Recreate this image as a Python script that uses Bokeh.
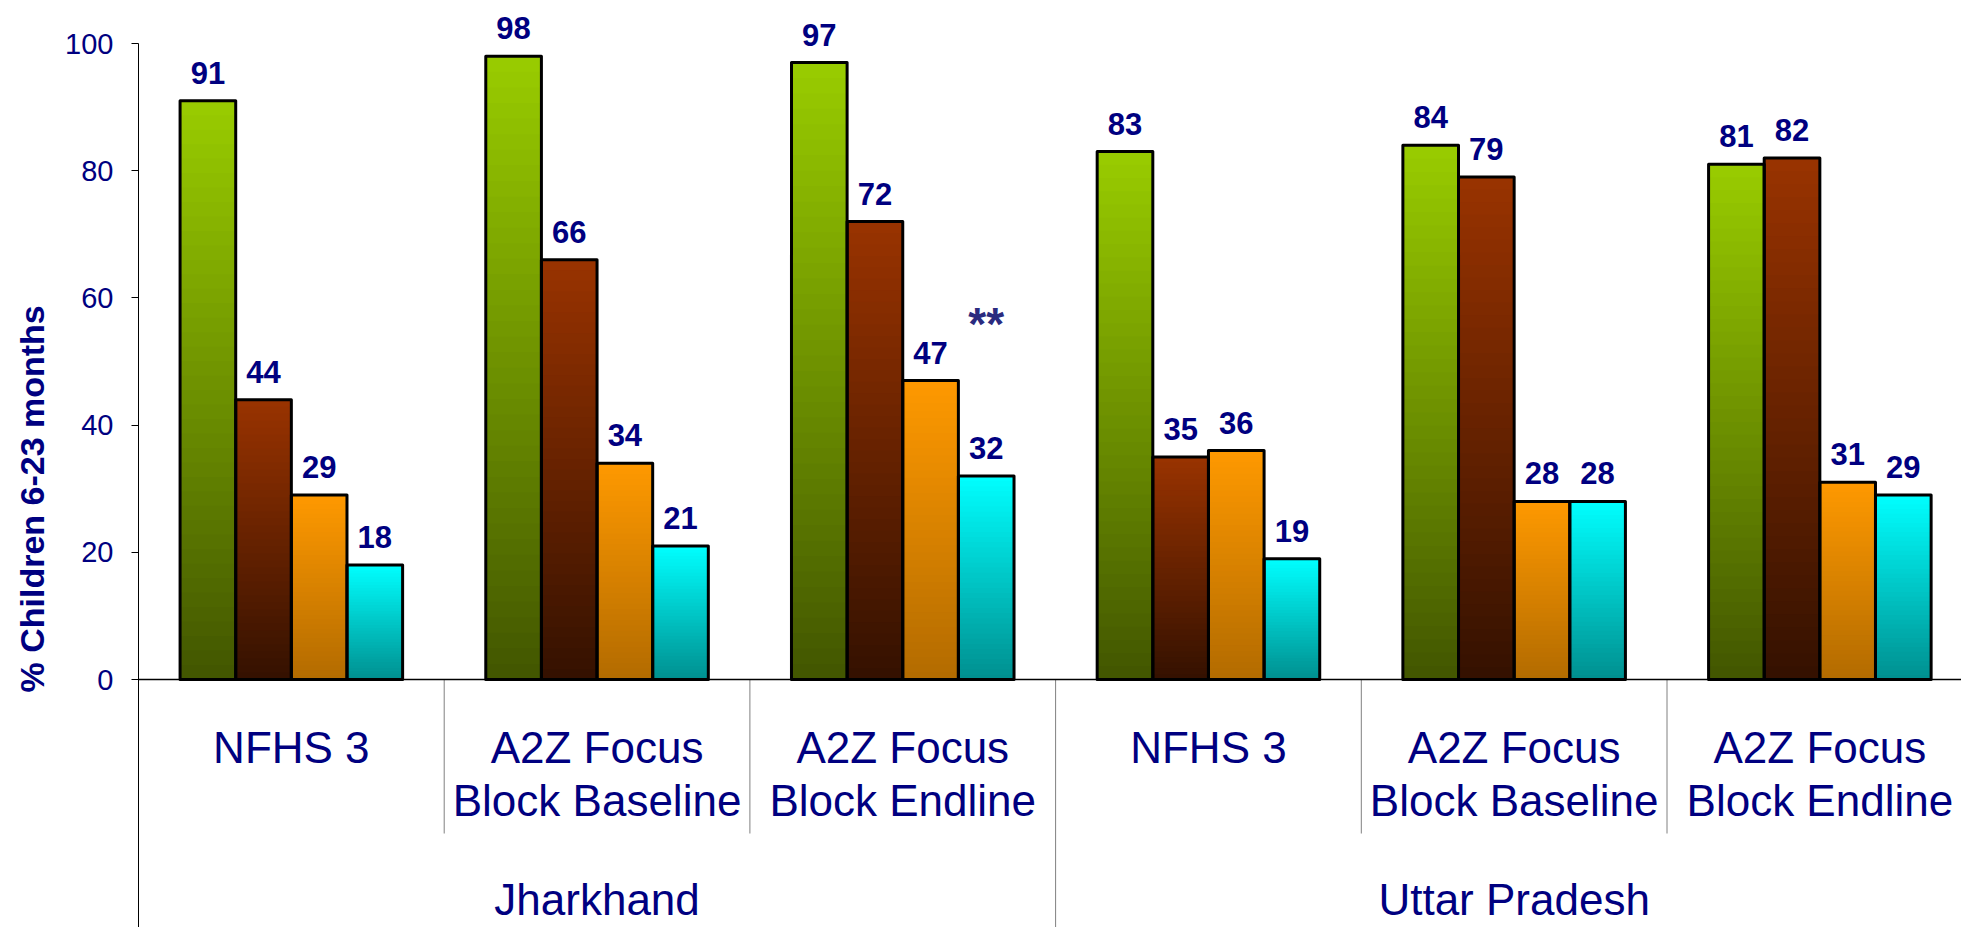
from bokeh.plotting import figure
from bokeh.models import Range1d, FixedTicker, Span, ColumnDataSource, Title
from bokeh.core.properties import value
from bokeh.embed import file_html
from bokeh.resources import INLINE

# ---------------- data ----------------
groups = ["Jharkhand", "Uttar Pradesh"]
categories = ["NFHS 3", "A2Z Focus\nBlock Baseline", "A2Z Focus\nBlock Endline",
              "NFHS 3", "A2Z Focus\nBlock Baseline", "A2Z Focus\nBlock Endline"]
series_1 = [91, 98, 97, 83, 84, 81]   # green
series_2 = [44, 66, 72, 35, 79, 82]   # brown
series_3 = [29, 34, 47, 36, 28, 31]   # orange
series_4 = [18, 21, 32, 19, 28, 29]   # cyan
y_ticks = [0, 20, 40, 60, 80, 100]
y_title = "% Children 6-23 months"
note_text = "**"
note_category = 2
note_series = 3

# ---------------- styles / layout ----------------
top_colors = [(153, 204, 0), (153, 51, 0), (255, 153, 0), (0, 255, 255)]
bottom_colors = [(66, 86, 0), (52, 17, 0), (178, 107, 0), (0, 143, 143)]
NAVY = "#000080"
FONT = value("Liberation Sans")

W, H = 1961, 927
LEFT = 138
TOP_PX = 43          # pixel row of the 100 tick
ZERO_PX = 679        # pixel row of the 0 tick
CAT_PX = 305.7
ppu = (ZERO_PX - TOP_PX) / 100.0
y_bottom = -(H - ZERO_PX) / ppu
y_top = 100 + TOP_PX / ppu
x_end = (W - LEFT) / CAT_PX


def ydata(px):
    return (ZERO_PX - px) / ppu


BW = 0.182
N_SLICES = 40
LABEL_GAP = 28 / ppu
LINE1_Y = ydata(747)
LINE2_Y = ydata(800)
GROUP_Y = ydata(899)
INNER_SEP_Y = ydata(833)
NOTE_Y = ydata(323)

series = [series_1, series_2, series_3, series_4]

p = figure(width=W, height=H, output_backend="svg", toolbar_location=None,
           x_range=Range1d(0, x_end), y_range=Range1d(y_bottom, y_top),
           min_border_left=LEFT, min_border_top=0, min_border_right=0,
           min_border_bottom=0, background_fill_color="white",
           border_fill_color="white", outline_line_color=None)
p.xgrid.visible = False
p.ygrid.visible = False
p.xaxis.visible = False

# gradient bars
sl = dict(left=[], right=[], top=[], bottom=[], color=[])
ol = dict(left=[], right=[], top=[], bottom=[])
lab = dict(x=[], y=[], text=[])
for c in range(len(categories)):
    for s in range(4):
        v = series[s][c]
        xc = c + 0.5 + (s - 1.5) * BW
        l, r = xc - BW / 2, xc + BW / 2
        for i in range(N_SLICES):
            f = (i + 0.5) / N_SLICES
            col = tuple(int(round(b + (t - b) * f)) for b, t in zip(bottom_colors[s], top_colors[s]))
            sl["left"].append(l); sl["right"].append(r)
            sl["bottom"].append(v * i / N_SLICES); sl["top"].append(v)
            sl["color"].append("#%02x%02x%02x" % col)
        ol["left"].append(l); ol["right"].append(r)
        ol["bottom"].append(0); ol["top"].append(v)
        lab["x"].append(xc); lab["y"].append(v + LABEL_GAP); lab["text"].append(str(v))

p.quad(left="left", right="right", top="top", bottom="bottom", fill_color="color",
       line_color=None, source=ColumnDataSource(sl))
p.quad(left="left", right="right", top="top", bottom="bottom", fill_color=None,
       line_color="black", line_width=3, line_join="round", source=ColumnDataSource(ol))

p.text(x="x", y="y", text="text", source=ColumnDataSource(lab), text_font=FONT,
       text_font_style="bold", text_font_size="31px", text_color=NAVY,
       text_align="center", text_baseline="middle")

# annotation
nx = note_category + 0.5 + (note_series - 1.5) * BW
p.text(x=[nx], y=[NOTE_Y], text=[note_text], text_font=FONT,
       text_font_style="bold", text_font_size="46px", text_color="#2b2b7f",
       text_align="center", text_baseline="middle")

# baseline
p.add_layout(Span(location=0, dimension="width", line_color="black", line_width=1.5))

# category separators
sx, sy0, sy1 = [], [], []
for b in range(1, len(categories) + 1):
    sx.append(b)
    sy0.append(0)
    sy1.append(y_bottom if b % 3 == 0 else INNER_SEP_Y)
p.segment(x0=sx, y0=sy0, x1=sx, y1=sy1, line_color="#808080", line_width=1)

# category labels
l1x, l1t, l2x, l2t = [], [], [], []
for c, name in enumerate(categories):
    parts = name.split("\n")
    l1x.append(c + 0.5); l1t.append(parts[0])
    if len(parts) > 1:
        l2x.append(c + 0.5); l2t.append(parts[1])
p.text(x=l1x, y=[LINE1_Y] * len(l1x), text=l1t, text_font=FONT, text_font_size="44px",
       text_color=NAVY, text_align="center", text_baseline="middle")
p.text(x=l2x, y=[LINE2_Y] * len(l2x), text=l2t, text_font=FONT, text_font_size="44px",
       text_color=NAVY, text_align="center", text_baseline="middle")

# group labels
p.text(x=[1.5, 4.5], y=[GROUP_Y] * 2, text=groups, text_font=FONT, text_font_size="44px",
       text_color=NAVY, text_align="center", text_baseline="middle")

# y axis
ax = p.yaxis[0]
ax.ticker = FixedTicker(ticks=y_ticks)
ax.bounds = (y_bottom, 100)
ax.major_label_text_font = "Liberation Sans"
ax.major_label_text_font_size = "29px"
ax.major_label_text_color = NAVY
ax.major_label_standoff = 18
ax.major_tick_out = 7
ax.major_tick_in = 0
ax.minor_tick_out = 0
ax.minor_tick_in = 0
ax.axis_line_color = "black"
ax.major_tick_line_color = "black"

# y axis title (side title, so that it can be placed lower than the frame centre)
p.add_layout(Title(text=y_title, align="left", offset=H - 692, vertical_align="top",
                   standoff=20, text_font="Liberation Sans", text_font_style="bold",
                   text_font_size="34px", text_color=NAVY), "left")

open("out.html", "w").write(file_html(p, INLINE))
